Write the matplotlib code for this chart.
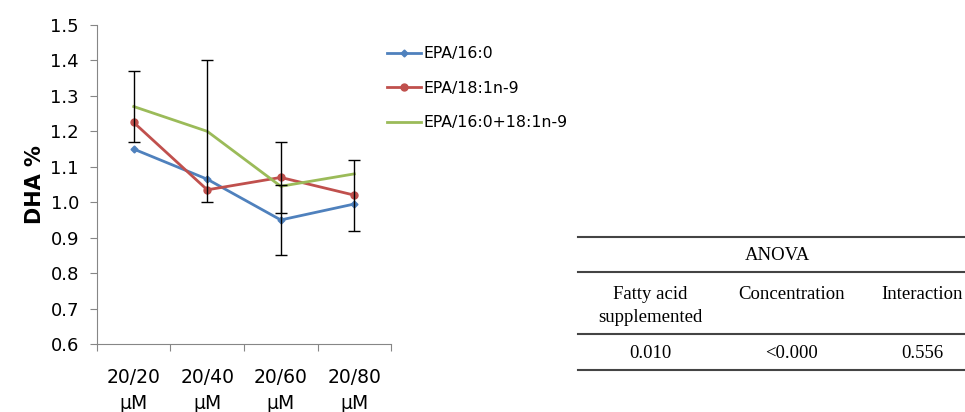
import numpy as np
import matplotlib.pyplot as plt
from matplotlib.lines import Line2D

# concentrations (EPA/other fatty acid)
categories = ["20/20\nμM", "20/40\nμM", "20/60\nμM", "20/80\nμM"]
series_names = ["EPA/16:0", "EPA/18:1n-9", "EPA/16:0+18:1n-9"]

dha_16_0 = [1.15, 1.065, 0.95, 0.995]
dha_18_1 = [1.225, 1.035, 1.07, 1.02]
dha_mix = [1.27, 1.20, 1.045, 1.08]

# standard errors (0 = not shown)
err_16_0 = [0, 0, 0.10, 0]
err_18_1 = [0, 0, 0.10, 0.10]
err_mix = [0.10, 0.20, 0, 0]

anova_head = ["Fatty acid\nsupplemented", "Concentration", "Interaction"]
anova_vals = ["0.010", "<0.000", "0.556"]

colors = ["#4F81BD", "#C0504D", "#9BBB59"]
markers = ["D", "o", None]
msizes = [3.5, 5, 0]

fig = plt.figure(figsize=(9.65, 4.12), dpi=100)
ax = fig.add_axes([0.1005, 0.165, 0.3047, 0.7743])

x = np.arange(len(categories))
all_vals = [dha_16_0, dha_18_1, dha_mix]
all_errs = [err_16_0, err_18_1, err_mix]

handles = []
for vals, errs, c, m, ms, name in zip(all_vals, all_errs, colors, markers, msizes, series_names):
    ln, = ax.plot(x, vals, color=c, lw=2, marker=m, ms=ms, label=name, zorder=3)
    handles.append(ln)
    errs = np.array(errs)
    idx = errs > 0
    ax.errorbar(x[idx], np.array(vals)[idx], yerr=errs[idx], fmt="none",
                ecolor="black", elinewidth=1, capsize=4, capthick=1, zorder=4)

ax.set_xlim(-0.5, 3.5)
ax.set_ylim(0.6, 1.5)
ax.set_yticks(np.arange(0.6, 1.51, 0.1))
ax.set_yticklabels([f"{v:.1f}" for v in np.arange(0.6, 1.51, 0.1)], fontsize=13)
ax.set_xticks(np.arange(-0.5, 3.6, 1))
ax.set_xticklabels([])
ax.set_xticks(x, minor=True)
ax.set_xticklabels(categories, minor=True, fontsize=13.5, linespacing=1.5)
ax.tick_params(axis="x", which="minor", length=0, pad=17)
ax.tick_params(axis="x", which="major", length=5, color="#868686")
ax.tick_params(axis="y", length=5, color="#868686", pad=8)
ax.set_ylabel("DHA %", fontsize=15, fontweight="bold", labelpad=4)
for s in ["top", "right"]:
    ax.spines[s].set_visible(False)
for s in ["left", "bottom"]:
    ax.spines[s].set_color("#868686")

fig.legend(handles=handles, loc="upper left", bbox_to_anchor=(0.401, 0.888),
           frameon=False, fontsize=11.3, borderpad=0, borderaxespad=0,
           handlelength=2.2, handletextpad=0.15, labelspacing=1.25)

# ANOVA table
serif = "Liberation Serif"
x0, x1 = 578 / 965, 1.0
for yp in [237, 272, 334, 370]:
    fig.add_artist(Line2D([x0, x1], [1 - yp / 412] * 2, color="#444444", lw=1.5))
fig.text(777 / 965, 1 - 256 / 412, "ANOVA", ha="center", va="center",
         fontsize=13.5, family=serif)
col_x = [650, 792, 922]
for cx, h, v in zip(col_x, anova_head, anova_vals):
    fig.text(cx / 965, 1 - 286 / 412, h, ha="center", va="top",
             fontsize=13.5, family=serif, linespacing=1.45)
    fig.text(cx / 965, 1 - 354 / 412, v, ha="center", va="center",
             fontsize=13.5, family=serif)

fig.savefig("out.png", dpi=100)
